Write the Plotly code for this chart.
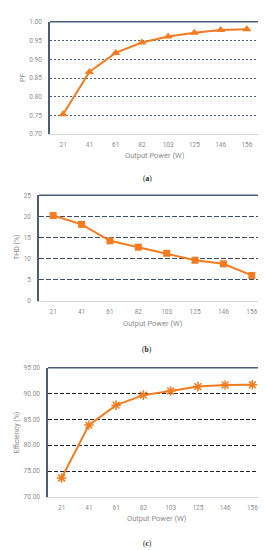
import plotly.graph_objects as go

W, H = 266, 550

power = ["21", "41", "61", "82", "103", "125", "146", "156"]
pf = [0.753, 0.866, 0.917, 0.945, 0.961, 0.971, 0.978, 0.980]
thd = [20.2, 18.1, 14.2, 12.7, 11.25, 9.6, 8.75, 6.0]
eff = [73.65, 83.9, 87.76, 89.7, 90.5, 91.35, 91.67, 91.7]

pf_ticks = [0.70, 0.75, 0.80, 0.85, 0.90, 0.95, 1.00]
thd_ticks = [0, 5, 10, 15, 20, 25]
eff_ticks = [70, 75, 80, 85, 90, 95]

ORANGE = "#F47B20"
SLATE = "#4A5E78"
TXT = "#8C8C8C"
FONT = "Roboto"

# pixel boxes: left, right, top, bottom
panels = [
    dict(box=(42, 252, 10, 124), y=pf, ticks=pf_ticks, fmt=".2f", rng=[0.70, 1.00],
         sym="triangle-up", msize=8, grid="2px,2px", gcol=SLATE, title="PF", tx=15,
         xl=146, cap="a", capy=169),
    dict(box=(31, 258, 186, 293), y=thd, ticks=thd_ticks, fmt="d", rng=[0, 25],
         sym="square", msize=7, grid="5px,2px", gcol="#3C4E66", title="THD (%)", tx=9,
         xl=316, cap="b", capy=342),
    dict(box=(40, 258, 361, 492), y=eff, ticks=eff_ticks, fmt=".2f", rng=[70, 95],
         sym="asterisk-open", msize=8, grid="4px,2px", gcol="#222222", title="Efficiency (%)", tx=9,
         xl=514, cap="c", capy=539),
]

fig = go.Figure()
annotations = []
shapes = []
for i, p in enumerate(panels, start=1):
    l, r, t, b = p["box"]
    xa = "xaxis" if i == 1 else f"xaxis{i}"
    ya = "yaxis" if i == 1 else f"yaxis{i}"
    xr = "x" if i == 1 else f"x{i}"
    yr = "y" if i == 1 else f"y{i}"
    marker = dict(symbol=p["sym"], size=p["msize"], color=ORANGE)
    if p["sym"] == "asterisk-open":
        marker["line"] = dict(color=ORANGE, width=1.5)
    fig.add_trace(go.Scatter(x=power, y=p["y"], mode="lines+markers", xaxis=xr, yaxis=yr,
                             line=dict(color=ORANGE, width=2), marker=marker,
                             showlegend=False, cliponaxis=False))
    fig.update_layout(**{
        xa: dict(domain=[l / W, r / W], anchor=yr, type="category",
                 range=[-0.5, len(power) - 0.5], showgrid=False, showline=True,
                 linecolor="#D9D9D9", linewidth=1, ticks="", zeroline=False,
                 tickfont=dict(family=FONT, size=6.5, color=TXT), ticklabelstandoff=4),
        ya: dict(domain=[1 - b / H, 1 - t / H], anchor=xr, range=p["rng"],
                 tickvals=p["ticks"], tickformat=p["fmt"], showgrid=True,
                 gridcolor=p["gcol"], griddash=p["grid"], gridwidth=1,
                 showline=True, mirror=True, linecolor=SLATE, linewidth=1.5,
                 zeroline=False, ticks="", ticklabelstandoff=5,
                 tickfont=dict(family=FONT, size=6.5, color=TXT)),
    })
    shapes.append(dict(type="line", xref=f"{xr} domain", yref=f"{yr} domain",
                       x0=0, x1=1, y0=1, y1=1, line=dict(color=SLATE, width=1.5)))
    annotations.append(dict(text=p["title"], xref="paper", yref="paper", x=p["tx"] / W,
                            y=1 - ((t + b) / 2) / H, textangle=-90, showarrow=False,
                            xanchor="center", yanchor="middle",
                            font=dict(family=FONT, size=7, color=TXT)))
    annotations.append(dict(text="Output Power (W)", xref="paper", yref="paper",
                            x=((l + r) / 2) / W, y=1 - p["xl"] / H, showarrow=False,
                            xanchor="center", yanchor="middle",
                            font=dict(family=FONT, size=7.5, color=TXT)))
    annotations.append(dict(text=f"(<b>{p['cap']}</b>)", xref="paper", yref="paper",
                            x=139 / W, y=1 - p["capy"] / H, showarrow=False,
                            xanchor="center", yanchor="middle",
                            font=dict(family="Liberation Serif", size=7.5, color="#222222")))

fig.update_layout(width=W, height=H, margin=dict(l=0, r=0, t=0, b=0),
                  paper_bgcolor="white", plot_bgcolor="white",
                  annotations=annotations, shapes=shapes)

fig.write_html("out.html")
